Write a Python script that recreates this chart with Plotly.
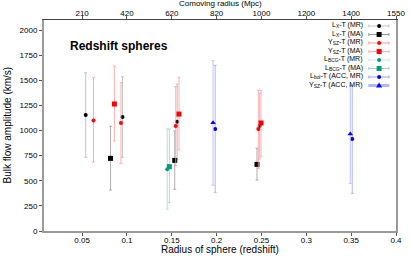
import plotly.graph_objects as go

# ---- data ----
z_ticks = [0.05, 0.1, 0.15, 0.2, 0.25, 0.3, 0.35, 0.4]
z_tick_labels = ["0.05", "0.1", "0.15", "0.2", "0.25", "0.3", "0.35", "0.4"]
comoving_labels = ["210", "420", "620", "820", "1000", "1200", "1400", "1550"]
y_ticks = [0, 250, 500, 750, 1000, 1250, 1500, 1750, 2000]

lx_mr_z = [0.054, 0.095, 0.156, 0.248]
lx_mr_v = [1154, 1134, 1088, 1045]
lx_mr_hi = [1575, 1535, 1460, 1373]
lx_mr_lo = [733, 733, 713, 716]

lx_ma_z = [0.0817, 0.1533, 0.245]
lx_ma_v = [723, 703, 663]
lx_ma_hi = [1042, 995, 823]
lx_ma_lo = [408, 415, 507]

ysz_mr_z = [0.0627, 0.0933, 0.1544, 0.2465]
ysz_mr_v = [1101, 1075, 1045, 1015]
ysz_mr_hi = [1529, 1476, 1436, 1400]
ysz_mr_lo = [686, 673, 650, 624]

ysz_ma_z = [0.086, 0.158, 0.2495]
ysz_ma_v = [1264, 1164, 1075]
ysz_ma_hi = [1642, 1529, 1400]
ysz_ma_lo = [896, 806, 739]

lbcg_mr_z = [0.145]
lbcg_mr_v = [614]
lbcg_mr_hi = [1015]
lbcg_mr_lo = [216]

lbcg_ma_z = [0.1473]
lbcg_ma_v = [640]
lbcg_ma_hi = [1015]
lbcg_ma_lo = [282]

lbol_acc_z = [0.1984, 0.3512]
lbol_acc_v = [1015, 915]
lbol_acc_hi = [1649, 1450]
lbol_acc_lo = [385, 375]

yszacc_z = [0.196, 0.349]
yszacc_v = [1078, 965]
yszacc_hi = [1695, 1446]
yszacc_lo = [455, 474]

series = [
    ("L<sub>X</sub>-T (MR)", lx_mr_z, lx_mr_v, lx_mr_hi, lx_mr_lo, "#000000", "circle", 4, "#c4c4c4", 1.0),
    ("L<sub>X</sub>-T (MA)", lx_ma_z, lx_ma_v, lx_ma_hi, lx_ma_lo, "#000000", "square", 5, "#9a9a9a", 0.8),
    ("Y<sub>SZ</sub>-T (MR)", ysz_mr_z, ysz_mr_v, ysz_mr_hi, ysz_mr_lo, "#ff0000", "circle", 4, "#ff9a9a", 0.8),
    ("Y<sub>SZ</sub>-T (MA)", ysz_ma_z, ysz_ma_v, ysz_ma_hi, ysz_ma_lo, "#ff0000", "square", 5, "#ffb0b0", 1.0),
    ("L<sub>BCG</sub>-T (MR)", lbcg_mr_z, lbcg_mr_v, lbcg_mr_hi, lbcg_mr_lo, "#009e73", "circle", 4, "#c6ebe0", 1.4),
    ("L<sub>BCG</sub>-T (MA)", lbcg_ma_z, lbcg_ma_v, lbcg_ma_hi, lbcg_ma_lo, "#009e73", "square", 5, "#99d8c7", 0.8),
    ("L<sub>bol</sub>-T (ACC, MR)", lbol_acc_z, lbol_acc_v, lbol_acc_hi, lbol_acc_lo, "#0000ff", "circle", 4, "#a0a0ff", 0.8),
    ("Y<sub>SZ</sub>-T (ACC, MR)", yszacc_z, yszacc_v, yszacc_hi, yszacc_lo, "#0000ff", "triangle-up", 5, "#b4b4ff", 0.8),
]

fig = go.Figure()

for name, zs, vs, his, los, col, sym, msz, ecol, ew in series:
    fig.add_trace(go.Scatter(
        x=zs, y=vs, mode="markers", name=name, showlegend=False,
        marker=dict(color=col, symbol=sym, size=msz, line=dict(width=0)),
        error_y=dict(type="data", symmetric=False,
                     array=[h - v for h, v in zip(his, vs)],
                     arrayminus=[v - l for v, l in zip(vs, los)],
                     color=ecol, thickness=ew, width=1.5),
    ))

# invisible trace so the top (comoving) axis is drawn
fig.add_trace(go.Scatter(x=z_ticks, y=[1000] * len(z_ticks), xaxis="x2", yaxis="y",
                         mode="markers", marker=dict(opacity=0), showlegend=False,
                         hoverinfo="skip"))

# ---- manual legend (text right-aligned, sample to its right) ----
shapes = []
annotations = []
top_px = 26.0
step_px = 8.5
plot_top, plot_bot = 20.0, 231.0
plot_l, plot_r = 44.0, 396.0
text_x = 0.912
mark_x = 0.952
line_x0, line_x1 = 0.923, 0.980
for i, (name, zs, vs, his, los, col, sym, msz, ecol, ew) in enumerate(series):
    py = top_px + i * step_px
    yp = (plot_bot - py) / (plot_bot - plot_top)
    annotations.append(dict(text=name, x=text_x, y=yp + 0.004,
                            xref="paper", yref="paper", xanchor="right", yanchor="middle",
                            showarrow=False, font=dict(size=7, color="#000000")))
    lw = 3 if i == 7 else 1
    shapes.append(dict(type="line", xref="paper", yref="paper", x0=line_x0, x1=line_x1,
                       y0=yp, y1=yp, line=dict(color=ecol, width=lw)))
    for xe in (line_x0, line_x1):
        shapes.append(dict(type="line", xref="paper", yref="paper", xsizemode="pixel",
                           ysizemode="pixel", xanchor=xe, yanchor=yp, x0=0, x1=0, y0=-1.5, y1=1.5,
                           line=dict(color=ecol, width=1)))
    r = msz / 2.0
    if sym == "circle":
        shapes.append(dict(type="circle", xref="paper", yref="paper", xsizemode="pixel",
                           ysizemode="pixel", xanchor=mark_x, yanchor=yp,
                           x0=-r, x1=r, y0=-r, y1=r, fillcolor=col, line=dict(width=0)))
    elif sym == "square":
        shapes.append(dict(type="rect", xref="paper", yref="paper", xsizemode="pixel",
                           ysizemode="pixel", xanchor=mark_x, yanchor=yp,
                           x0=-r, x1=r, y0=-r, y1=r, fillcolor=col, line=dict(width=0)))
    else:
        shapes.append(dict(type="path", xref="paper", yref="paper", xsizemode="pixel",
                           ysizemode="pixel", xanchor=mark_x, yanchor=yp,
                           path="M -3,-2 L 3,-2 L 0,3 Z", fillcolor=col, line=dict(width=0)))

annotations.append(dict(text="<b>Redshift spheres</b>", x=0.068, y=0.875, xref="paper", yref="paper",
                        xanchor="left", yanchor="middle", showarrow=False,
                        font=dict(size=12, color="#000000")))

# axis titles placed as annotations (pixel positions from the reference)
def px_to_paper_x(px):
    return (px - plot_l) / (plot_r - plot_l)

def px_to_paper_y(py):
    return (plot_bot - py) / (plot_bot - plot_top)

annotations.append(dict(text="Radius of sphere (redshift)", x=0.5, y=px_to_paper_y(250),
                        xref="paper", yref="paper", xanchor="center", yanchor="middle",
                        showarrow=False, font=dict(size=10, color="#000000")))
annotations.append(dict(text="Comoving radius (Mpc)", x=0.5, y=px_to_paper_y(3.5),
                        xref="paper", yref="paper", xanchor="center", yanchor="middle",
                        showarrow=False, font=dict(size=8, color="#000000")))
annotations.append(dict(text="Bulk flow amplitude (km/s)", x=px_to_paper_x(7), y=0.5,
                        xref="paper", yref="paper", xanchor="center", yanchor="middle",
                        textangle=-90, showarrow=False, font=dict(size=10, color="#000000")))

axis_font = dict(family="Liberation Sans, Arial, sans-serif", size=8, color="#000000")

fig.update_layout(
    width=411, height=257,
    margin=dict(l=44, r=15, t=20, b=26),
    paper_bgcolor="white", plot_bgcolor="white",
    font=dict(family="Liberation Sans, Arial, sans-serif", size=8, color="#000000"),
    shapes=shapes, annotations=annotations,
    xaxis=dict(range=[0.0075, 0.4], tickvals=z_ticks, ticktext=z_tick_labels, automargin=False,
               showgrid=False, zeroline=False, showline=True, linecolor="#9a9a9a", linewidth=2,
               ticks="outside", ticklen=3, tickcolor="#555555", tickfont=axis_font,
               ticklabelstandoff=-3),
    xaxis2=dict(range=[0.0075, 0.4], overlaying="x", side="top", anchor="y", automargin=False,
                tickvals=z_ticks, ticktext=comoving_labels,
                showgrid=False, zeroline=False, showline=True, linecolor="#444444", linewidth=1,
                ticks="outside", ticklen=3, tickcolor="#555555", tickfont=axis_font,
                ticklabelstandoff=-3),
    yaxis=dict(range=[0, 2100], tickvals=y_ticks, automargin=False,
               showgrid=False, zeroline=False, showline=True, linecolor="#9a9a9a", linewidth=2,
               mirror=True, ticks="outside", ticklen=3, tickcolor="#555555", tickfont=axis_font),
)

fig.write_html("out.html", config={"displayModeBar": False},
               post_script="document.body.style.margin='0';")
